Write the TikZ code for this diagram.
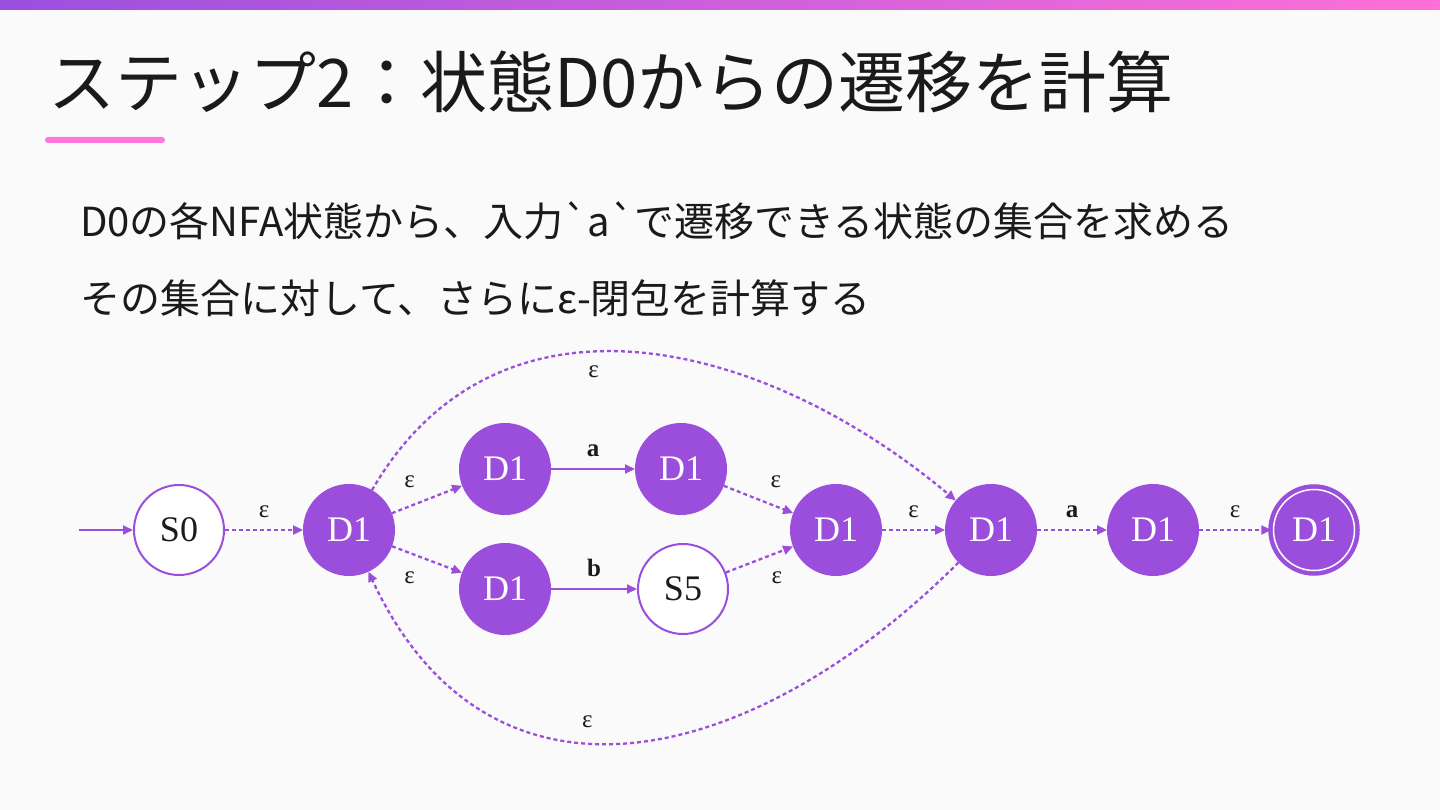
\documentclass[tikz,border=0pt]{standalone}
\usepackage{fontspec}
\usepackage{tikz}
\usetikzlibrary{positioning,automata,arrows.meta}

\newfontfamily\jpfont{Noto Sans CJK JP}[Ligatures=TeXOff]
\newfontfamily\lblfont{Liberation Serif}
\definecolor{nodepurple}{HTML}{9B4EDC}
\definecolor{barleft}{HTML}{9B4FDE}
\definecolor{barright}{HTML}{FF70D8}
\definecolor{accentpink}{HTML}{FF77DD}
\definecolor{bgpage}{HTML}{FAFAFA}
\definecolor{ink}{HTML}{1A1A1A}

\begin{document}
\begin{tikzpicture}[x=1pt, y=1pt, ->, >={Triangle[length=10pt,width=9pt]}, auto,
  every state/.style={circle, minimum size=90pt, inner sep=0pt, line width=2pt,
    draw=nodepurple, fill=nodepurple, text=white, font=\lblfont\fontsize{36}{38}\selectfont},
  plain/.style={fill=white, text=ink},
  accepting/.style={double=white, double distance=1.5pt, line width=4.5pt, minimum size=81pt},
  initial text={}, initial distance=54pt,
  every initial by arrow/.style={draw=nodepurple, line width=2pt},
  every edge/.append style={draw=nodepurple, line width=2pt, font=\lblfont\fontsize{25}{27}\selectfont,
    nodes={inner sep=11pt, text=ink}},
  eps/.style={line width=2.3pt, dash pattern=on 4pt off 3pt}]

  % page, bar and title
  \useasboundingbox (0,0) rectangle (1440,-810);
  \fill[bgpage] (0,0) rectangle (1440,-810);
  \shade[left color=barleft, right color=barright] (0,0) rectangle (1440,-10);
  \fill[accentpink, rounded corners=3pt] (45,-137) rectangle (165,-143);
  \node[anchor=base west, inner sep=0pt, text=ink, font=\jpfont\fontsize{67}{72}\selectfont] (title) at (48,-108)
    {ステップ2：状態D0からの遷移を計算};
  \node[anchor=base west, inner sep=0pt, text=ink, font=\jpfont\fontsize{40}{44}\selectfont] (line1) at (80,-237)
    {D0の各NFA状態から、入力`a`で遷移できる状態の集合を求める};
  \node[anchor=base west, inner sep=0pt, text=ink, font=\jpfont\fontsize{40}{44}\selectfont] (line2) at (80,-313)
    {その集合に対して、さらにε-閉包を計算する};

  % states
  \node[state, plain, initial] (S0) at (179,-530) {S0};
  \node[state, node distance=170pt, right of=S0] (D1) {D1};
  \node[state] (U1) at (505,-469) {D1};
  \node[state] (U2) at (681,-469) {D1};
  \node[state] (L1) at (505,-589) {D1};
  \node[state, plain] (S5) at (683,-589) {S5};
  \node[state] (M1) at (836,-530) {D1};
  \node[state, node distance=155pt, right of=M1] (M2) {D1};
  \node[state, node distance=162pt, right of=M2] (M3) {D1};
  \node[state, accepting, node distance=161pt, right of=M3] (M4) {D1};

  \path
    (S0) edge [eps] node {ε} (D1)
    (D1) edge [eps] node {ε} (U1)
         edge [eps] node [swap] {ε} (L1)
         edge [eps, out=60, in=140, looseness=1.1] node [swap, pos=0.4] {ε} (M2)
    (U1) edge node {\textbf{a}} (U2)
    (L1) edge node {\textbf{b}} (S5)
    (U2) edge [eps] node {ε} (M1)
    (S5) edge [eps] node [swap] {ε} (M1)
    (M1) edge [eps] node {ε} (M2)
    (M2) edge [eps] node {\textbf{a}} (M3)
         edge [eps, out=-135, in=-65, looseness=1.25] node [swap, pos=0.6] {ε} (D1)
    (M3) edge [eps] node {ε} (M4);
\end{tikzpicture}
\end{document}
